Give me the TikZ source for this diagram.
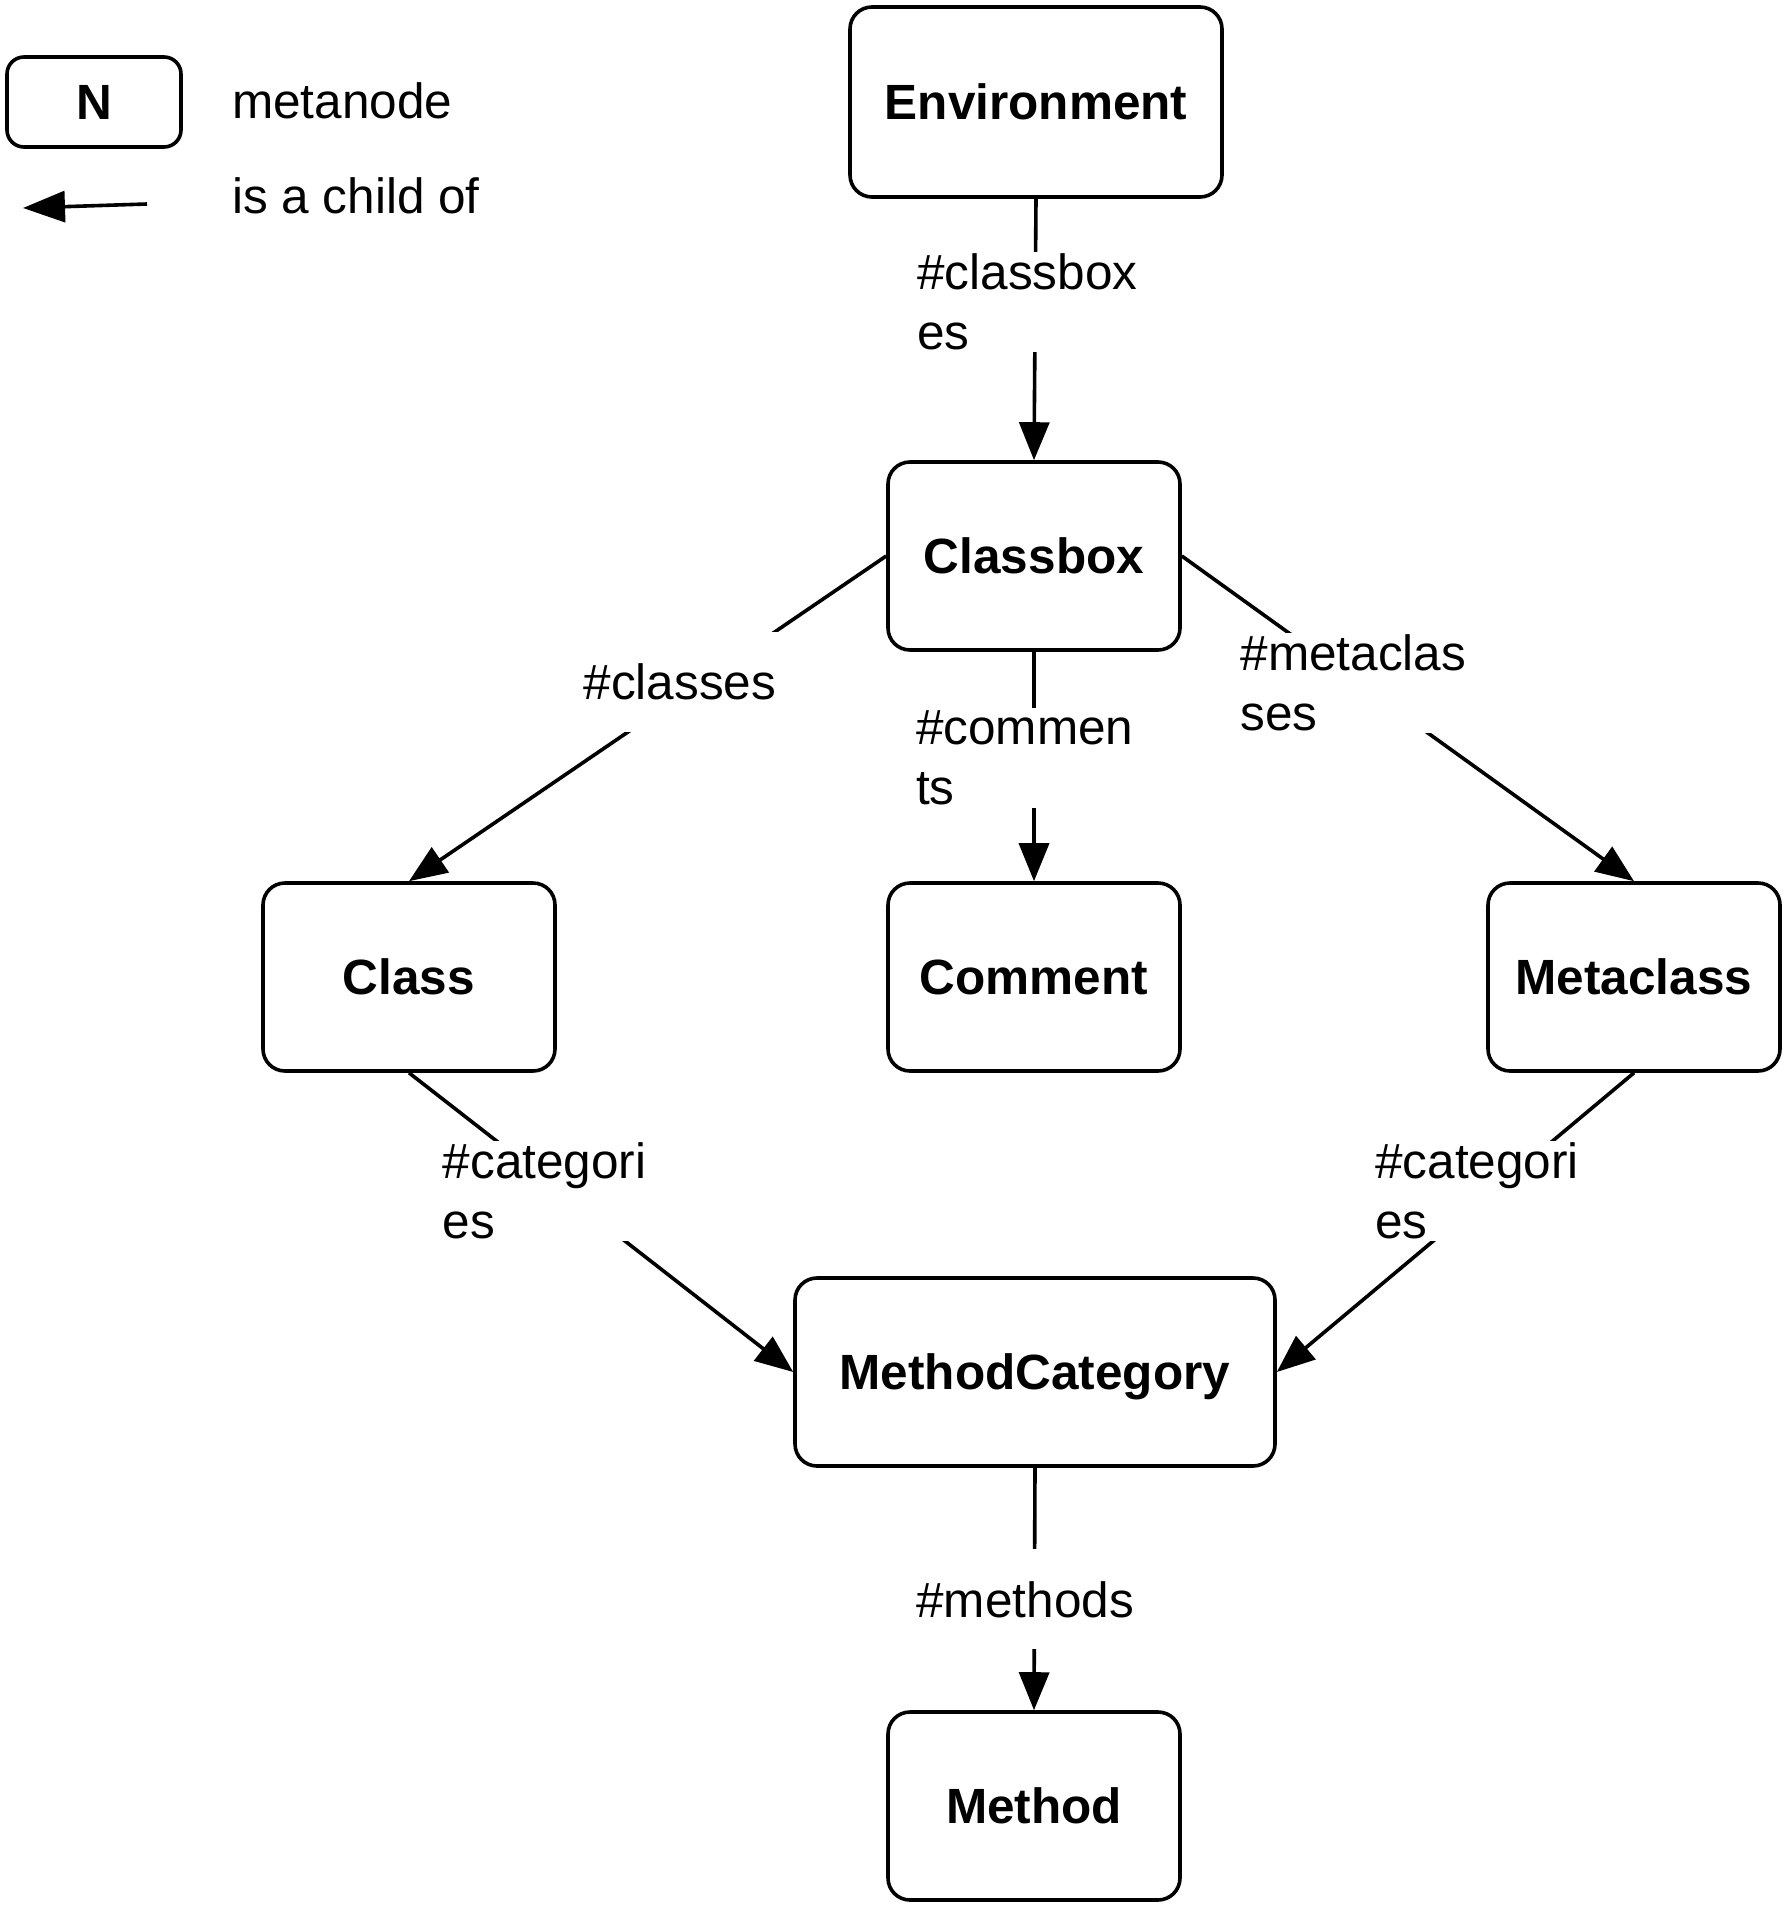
\documentclass[tikz,border=0pt]{standalone}
\usepackage{fontspec}
\setmainfont{Liberation Sans}
\usetikzlibrary{arrows.meta}
\begin{document}
\begin{tikzpicture}[x=1pt,y=-1pt,
  box/.style={draw, line width=3.6pt, rounded corners=22pt, inner sep=0pt,
    minimum width=292pt, minimum height=188pt, text height=35.5pt, text depth=0pt,
    font=\fontsize{49.5}{60}\selectfont\bfseries},
  lbl/.style={fill=white, inner sep=0pt, text width=236pt, minimum height=100pt,
    align=left, font=\fontsize{49.5}{60}\selectfont},
  conn/.style={line width=3.6pt, -{Triangle[length=38pt,width=30pt]}},
  plain/.style={font=\fontsize{49.5}{60}\selectfont, inner sep=0pt, anchor=base west}]
\useasboundingbox (0,0) rectangle (1787,1908);

% legend
\node[box, minimum width=174pt, minimum height=90pt, rounded corners=17pt] (lgN) at (94,102) {N};
\node[plain] (t1) at (232,119) {metanode};
\node[plain] (t2) at (232,213) {is a child of};
\coordinate (a1) at (147,204);
\coordinate (a2) at (23,208);
\draw[conn, -{Triangle[length=42pt,width=31pt]}] (a1) -- (a2);

% nodes
\node[box, minimum width=372pt, minimum height=190pt] (env) at (1036,102) {Environment};
\node[box] (cb) at (1034,556) {Classbox};
\node[box] (cls) at (409,977) {Class};
\node[box] (com) at (1034,977) {Comment};
\node[box] (meta) at (1634,977) {Metaclass};
\node[box, minimum width=480pt] (mc) at (1035,1372) {MethodCategory};
\node[box] (meth) at (1034,1806) {Method};

% connectors
\draw[conn] (env.south) -- node[lbl, pos=0.394] (l1) {\#classbox\\es} (cb.north);
\draw[conn] (cb.west) -- node[lbl, pos=0.387] (l2) {\#classes} (cls.north);
\draw[conn] (cb.south) -- node[lbl, pos=0.4635] (l3) {\#commen\\ts} (com.north);
\draw[conn] (cb.east) -- node[lbl, pos=0.391] (l4) {\#metaclas\\ses} (meta.north);
\draw[conn] (cls.south) -- node[lbl, pos=0.395] (l5) {\#categori\\es} (mc.west);
\draw[conn] (meta.south) -- node[lbl, pos=0.394] (l6) {\#categori\\es} (mc.east);
\draw[conn] (mc.south) -- node[lbl, pos=0.543] (l7) {\#methods} (meth.north);
\end{tikzpicture}
\end{document}
